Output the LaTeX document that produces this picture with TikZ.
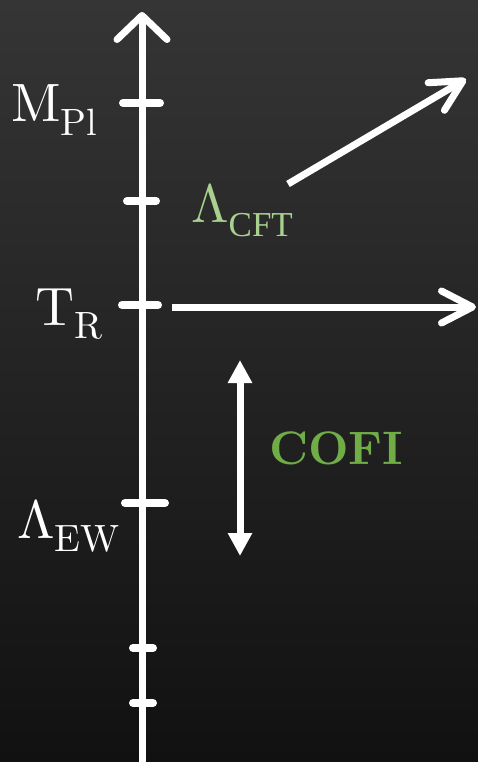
\documentclass[tikz,border=0pt]{standalone}
\usepackage{fontspec}
\usetikzlibrary{arrows.meta}
% 10pt design size at every scale
\setmainfont{lmroman10}[Extension=.otf, UprightFont=*-regular, BoldFont=*-bold,
  ItalicFont=*-italic, BoldItalicFont=*-bolditalic]
\newfontfamily\cftfont{Liberation Serif}
\definecolor{bgtop}{HTML}{353535}
\definecolor{bgbot}{HTML}{111111}
\definecolor{cftgreen}{HTML}{A9D18E}
\definecolor{cofigreen}{HTML}{70AD47}
% scale label: big symbol with a lowered subscript
\newcommand\scalelabel[2]{#1\raisebox{-13.5pt}{\fontsize{38}{40}\selectfont #2}}
\tikzset{
  axisline/.style={line width=7pt, white, line cap=round},
  tickmark/.style={line width=8pt, white, line cap=round},
  flow/.style={line width=7pt, white},
  lbl/.style={inner sep=0pt, anchor=base west, text=white,
    font=\fontsize{54}{60}\selectfont},
  barbtip/.style={-{Straight Barb[length=31pt, width=32pt, round]}},
}
\begin{document}
\begin{tikzpicture}[x=1pt, y=-1pt]
  % background
  \shade[top color=bgtop, bottom color=bgbot] (0,0) rectangle (478,762);
  \useasboundingbox (0,0) rectangle (478,762);

  % energy axis
  \coordinate (axbot) at (142,770);
  \coordinate (axtop) at (142,12);
  \draw[axisline, -{Straight Barb[length=24pt, width=50pt, round]}] (axbot) -- (axtop);

  % tick marks
  \foreach \name/\y/\xa/\xb in {pl/103/123/160, cft/201/127/156, tr/305/122/158,
                                ew/503/125/165, la/648/133/153, lb/703/133/153}{
    \coordinate (\name L) at (\xa,\y);
    \coordinate (\name R) at (\xb,\y);
    \draw[tickmark] (\name L) -- (\name R);
  }

  % labels on the axis
  \node[lbl] (mpl) at (11,122) {\scalelabel{M}{Pl}};
  \node[lbl] (trh) at (35,325) {\scalelabel{T}{R}};
  \node[lbl] (lew) at (17,538) {\scalelabel{Λ}{EW}};
  \node[lbl, text=cftgreen] (lcft) at (191,222)
    {Λ\raisebox{-14pt}{\fontsize{35}{38}\selectfont\cftfont CFT}};
  \node[lbl, text=cofigreen, font=\fontsize{47}{50}\selectfont\bfseries] (cofi) at (269,464) {COFI};

  % flows
  \coordinate (dstart) at (288,184);
  \coordinate (dend) at (466,79);
  \draw[flow, barbtip] (dstart) -- (dend);
  \coordinate (hstart) at (172,307);
  \coordinate (hend) at (476,307);
  \draw[flow, barbtip] (hstart) -- (hend);

  % COFI window
  \coordinate (ctop) at (240,360);
  \coordinate (cbot) at (240,556);
  \draw[line width=7pt, white, {Triangle[length=23pt, width=23pt]}-{Triangle[length=23pt, width=23pt]}] (ctop) -- (cbot);
\end{tikzpicture}
\end{document}
